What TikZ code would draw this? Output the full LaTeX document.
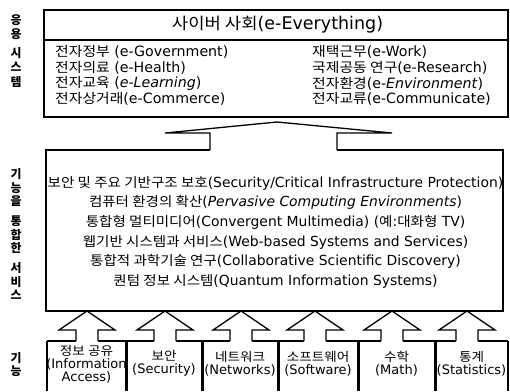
\documentclass[tikz,border=0pt]{standalone}
\usepackage{fontspec}
\usepackage{graphicx}
\setmainfont{DejaVu Sans}
\newfontfamily\kr[Scale=0.95]{Noto Sans CJK KR}
\newcommand\K[1]{\scalebox{1.1}[1]{\kr #1}}
\usetikzlibrary{calc}
\begin{document}
\begin{tikzpicture}[x=1pt,y=-1pt,
  boxline/.style={line width=1.3pt},
  sepline/.style={line width=3pt},
  itemtxt/.style={font=\fontsize{14.2}{15}\selectfont, inner sep=0pt, anchor=west},
  svctxt/.style={font=\fontsize{13.9}{15}\selectfont, inner sep=0pt},
  vlab/.style={font=\fontsize{12.5}{14}\selectfont\kr\bfseries, align=center, inner sep=0pt},
  frame/.style={draw, boxline, anchor=north west, inner sep=0pt, outer sep=0pt},
  fcell/.style={anchor=north west, minimum height=50pt, inner sep=0pt, outer sep=0pt},
  ftxt/.style={font=\fontsize{13}{13}\selectfont, align=center, inner sep=0pt},
  blockarrow/.style={boxline, line join=miter}
]
\useasboundingbox (0,0) rectangle (510,391);
\fill[white] (0,0) rectangle (510,391);

% left labels
\node[vlab] (l1) at (16,51) {응\\[0.5pt]용\\[4.5pt]시\\[0.5pt]스\\[0.5pt]템};
\node[vlab] (l2) at (16,234) {기\\[-0.5pt]능\\[-0.5pt]을\\[6pt]통\\[-0.5pt]합\\[-0.5pt]한\\[6pt]서\\[-0.5pt]비\\[-0.5pt]스};
\node[vlab] (l3) at (16,364.5) {기\\[-1pt]능};

% top box
\node[frame, minimum width=464pt, minimum height=107pt] (app) at (44,10) {};
\draw[boxline] (app.west |- 0,40) -- (app.east |- 0,40);
\node[inner sep=0pt] (title) at (277.5,25) {{\fontsize{17}{18}\selectfont\K{사이버 사회}}{\fontsize{17.5}{20}\selectfont(e-Everything)}};
\node[itemtxt] (a1) at (55,52) {\K{전자정부} (e-Government)};
\node[itemtxt] (a2) at (55,68) {\K{전자의료} (e-Health)};
\node[itemtxt] (a3) at (55,83.5) {\K{전자교육} (\textit{e-Learning})};
\node[itemtxt] (a4) at (55,99) {\K{전자상거래}(e-Commerce)};
\node[itemtxt] (b1) at (312,52) {\K{재택근무}(e-Work)};
\node[itemtxt] (b2) at (312,68) {\K{국제공동 연구}(e-Research)};
\node[itemtxt] (b3) at (312,83.5) {\K{전자환경}(e-\textit{Environment})};
\node[itemtxt] (b4) at (312,99) {\K{전자교류}(e-Communicate)};

% middle box
\node[frame, minimum width=457pt, minimum height=161pt] (svc) at (46,150) {};
\node[svctxt] (s1) at (275.5,183) {\K{보안 및 주요 기반구조 보호}(Security/Critical Infrastructure Protection)};
\node[svctxt] (s2) at (275.5,202.5) {\K{컴퓨터 환경의 확산}(\textit{Pervasive Computing Environments})};
\node[svctxt] (s3) at (275.5,222) {\K{통합형 멀티미디어}(Convergent Multimedia) (\K{예}:\K{대화형} TV)};
\node[svctxt] (s4) at (275.5,242) {\K{웹기반 시스템과 서비스}(Web-based Systems and Services)};
\node[svctxt] (s5) at (275.5,261.5) {\K{통합적 과학기술 연구}(Collaborative Scientific Discovery)};
\node[svctxt] (s6) at (275.5,281) {\K{퀀텀 정보 시스템}(Quantum Information Systems)};

% arrow from services to applications
\fill[white] (210,152.5) -- (210,133) -- (165,133) -- (277,122) -- (392,133) -- (337,133) -- (337,152.5) -- cycle;
\draw[blockarrow] (210,0 |- svc.north) -- (210,133) -- (165,133) -- (277,122) -- (392,133) -- (337,133) -- (337,0 |- svc.north);

% bottom function cells
\node[fcell, minimum width=79pt] (f1) at (47,341) {};
\node[fcell, minimum width=76pt] (f2) at (126,341) {};
\node[fcell, minimum width=76pt] (f3) at (202,341) {};
\node[fcell, minimum width=80pt] (f4) at (278,341) {};
\node[fcell, minimum width=77pt] (f5) at (358,341) {};
\node[fcell, minimum width=73pt] (f6) at (435,341) {};
\draw[boxline] (f1.north west) -- (f6.north east);
\draw[boxline] (f1.north west) -- (f1.south west);
\draw[boxline] (f6.north east) -- (f6.south east);
\foreach \n in {2,...,6} \draw[sepline] (f\n.north west) -- (f\n.south west);

\node[ftxt] (t1) at (86.5,364) {\K{정보 공유}\\(Information\\Access)};
\node[ftxt] (t2) at (164,363.5) {\K{보안}\\(Security)};
\node[ftxt] (t3) at (240,363.5) {\K{네트워크}\\(Networks)};
\node[ftxt] (t4) at (318,363.5) {\K{소프트웨어}\\(Software)};
\node[ftxt] (t5) at (396.5,363.5) {\K{수학}\\(Math)};
\node[ftxt] (t6) at (471.5,363.5) {\K{통계}\\(Statistics)};

% arrows from functions to services
\foreach \c/\f in {87/f1,165/f2,241/f3,315/f4,392/f5,467/f6} {
  \fill[white] (\c-11,342.5) -- (\c-11,330) -- (\c-28,330) -- (\c,312) -- (\c+28,330) -- (\c+11,330) -- (\c+11,342.5) -- cycle;
  \draw[blockarrow] (\c-11,0 |- \f.north) -- (\c-11,330) -- (\c-28,330) -- (\c,0 |- svc.south) -- (\c+28,330) -- (\c+11,330) -- (\c+11,0 |- \f.north);
}
\end{tikzpicture}
\end{document}
